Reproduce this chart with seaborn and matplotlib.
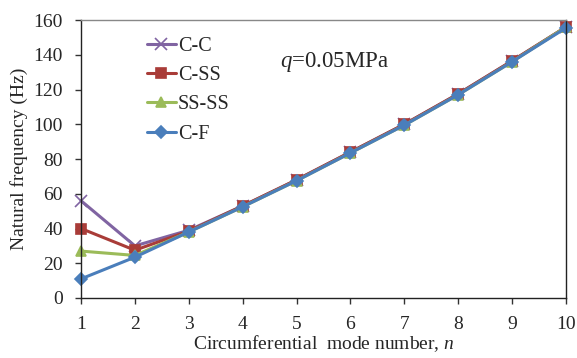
import numpy as np
import pandas as pd
import matplotlib
matplotlib.use("Agg")
import matplotlib.pyplot as plt
import seaborn as sns

modes = [1, 2, 3, 4, 5, 6, 7, 8, 9, 10]
freq_cc = [56, 30, 39, 53, 68, 84, 100, 117.5, 136.5, 156]
freq_css = [40, 27.5, 38.5, 53, 68, 84, 100, 117.5, 136.5, 156]
freq_ssss = [27, 24.5, 38, 52.5, 67.5, 83.5, 99.5, 117, 136, 156]
freq_cf = [11, 23.5, 38, 52.5, 67.5, 83.5, 99.5, 117, 136, 155.5]
conditions = ["C-C", "C-SS", "SS-SS", "C-F"]
series = dict(zip(conditions, [freq_cc, freq_css, freq_ssss, freq_cf]))

sns.set_style("ticks")
plt.rcParams["font.family"] = ["Liberation Serif", "DejaVu Serif"]
plt.rcParams["mathtext.fontset"] = "custom"
plt.rcParams["mathtext.it"] = "Liberation Serif:italic"
plt.rcParams["mathtext.rm"] = "Liberation Serif"

palette = {"C-C": "#8064A2", "C-SS": "#A93C38", "SS-SS": "#9BBB59", "C-F": "#4A7EBB"}
markers = {"C-C": "x", "C-SS": "s", "SS-SS": "^", "C-F": "D"}
msizes = {"C-C": 8, "C-SS": 7, "SS-SS": 7.5, "C-F": 6}

fig = plt.figure(figsize=(5.77, 3.58), dpi=100)
ax = fig.add_axes([0.1404, 0.1676, 0.8406, 0.7765])

for bc in conditions:
    df = pd.DataFrame({"n": modes, "freq": series[bc]})
    sns.lineplot(data=df, x="n", y="freq", color=palette[bc], marker=markers[bc],
                 markersize=msizes[bc], markeredgewidth=1.2, markeredgecolor=palette[bc],
                 linewidth=2.2, ax=ax, clip_on=False, label=bc)

ax.set_xlim(1, 10)
ax.set_ylim(0, 160)
ax.set_xticks(modes)
ax.set_yticks(np.arange(0, 161, 20))
ax.tick_params(axis="both", labelsize=14, direction="out", length=4,
               width=1, color="#333333")
ax.tick_params(axis="y", pad=9)
ax.tick_params(axis="x", pad=9)
for side in ["left", "bottom", "right"]:
    ax.spines[side].set_color("#222222")
    ax.spines[side].set_linewidth(1)
ax.spines["top"].set_color("#888888")
ax.spines["top"].set_linewidth(1)

ax.set_xlabel("Circumferential  mode number, $\\mathit{n}$", fontsize=14, labelpad=0)
ax.set_ylabel("Natural frequency (Hz)", fontsize=14, labelpad=4)

ax.text(4.7, 136, "$\\mathit{q}$=0.05MPa", fontsize=16.5, ha="left", va="center")

leg = ax.legend(loc="upper left", bbox_to_anchor=(0.115, 0.975), frameon=False,
                fontsize=14.5, handlelength=1.45, handletextpad=0.1,
                labelspacing=0.5, borderpad=0)

fig.savefig("out.png", dpi=100)
